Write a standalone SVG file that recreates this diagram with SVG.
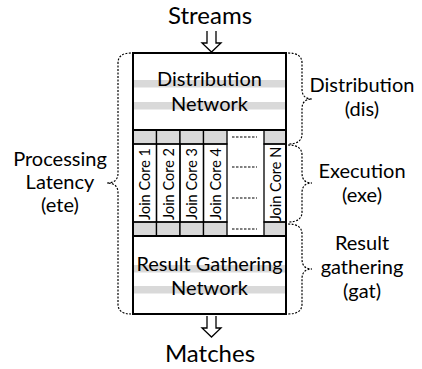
<svg xmlns="http://www.w3.org/2000/svg" width="422" height="369" viewBox="0 0 422 369">
<style>
text{font-family:Lato,"Open Sans","Liberation Sans",sans-serif;fill:#000;text-anchor:middle}
.lbl{font-size:20px}
.big{font-size:24px}
.core{font-size:14.5px}
.bar{fill:#d9d9d9}
.thick{fill:none;stroke:#000;stroke-width:2}
.thin{fill:none;stroke:#000;stroke-width:1.3}
.gcell{fill:#d9d9d9;stroke:#000;stroke-width:1.3}
.brace{fill:none;stroke:#000;stroke-width:1.2;stroke-dasharray:2 1.5}
.dots{fill:none;stroke:#000;stroke-width:1.2;stroke-dasharray:2.5 1.5}
.arr{fill:none;stroke:#000;stroke-width:1.3;stroke-linejoin:miter}
</style>
<rect width="422" height="369" fill="#fff"/>
<g id="streams">
<text class="big" x="210" y="23.5">Streams</text>
</g>
<g id="distribution-network">
<rect x="133" y="53" width="153" height="77" fill="#fff"/>
<rect class="bar" x="133" y="80" width="153" height="7.5"/>
<rect class="bar" x="133" y="102" width="153" height="7.5"/>
<text class="lbl" x="209.5" y="86">Distribution</text>
<text class="lbl" x="209.5" y="110.5">Network</text>
</g>
<g id="execution">
<rect class="gcell" x="133" y="130" width="23.5" height="14"/>
<rect class="gcell" x="156.5" y="130" width="23.5" height="14"/>
<rect class="gcell" x="180" y="130" width="23.5" height="14"/>
<rect class="gcell" x="203.5" y="130" width="23.5" height="14"/>
<rect class="gcell" x="264" y="130" width="22" height="14"/>
<rect class="gcell" x="133" y="222" width="23.5" height="14"/>
<rect class="gcell" x="156.5" y="222" width="23.5" height="14"/>
<rect class="gcell" x="180" y="222" width="23.5" height="14"/>
<rect class="gcell" x="203.5" y="222" width="23.5" height="14"/>
<rect class="gcell" x="264" y="222" width="22" height="14"/>
<rect class="thin" x="133" y="144" width="23.5" height="78"/>
<rect class="thin" x="156.5" y="144" width="23.5" height="78"/>
<rect class="thin" x="180" y="144" width="23.5" height="78"/>
<rect class="thin" x="203.5" y="144" width="23.5" height="78"/>
<rect class="thin" x="264" y="144" width="22" height="78"/>
<line class="dots" x1="232" y1="137" x2="257" y2="137"/>
<line class="dots" x1="232" y1="167" x2="257" y2="167"/>
<line class="dots" x1="232" y1="198" x2="257" y2="198"/>
<line class="dots" x1="232" y1="229" x2="257" y2="229"/>
<text class="core" transform="translate(150,184) rotate(-90)">Join Core 1</text>
<text class="core" transform="translate(173.5,184) rotate(-90)">Join Core 2</text>
<text class="core" transform="translate(197,184) rotate(-90)">Join Core 3</text>
<text class="core" transform="translate(220.5,184) rotate(-90)">Join Core 4</text>
<text class="core" transform="translate(280.5,184) rotate(-90)">Join Core N</text>
</g>
<g id="result-gathering-network">
<rect class="bar" x="133" y="265" width="153" height="7.5"/>
<rect class="bar" x="133" y="286" width="153" height="7.5"/>
<text class="lbl" x="209.5" y="270.5">Result Gathering</text>
<text class="lbl" x="209.5" y="295">Network</text>
</g>
<g id="frame">
<rect class="thick" x="133" y="53" width="153" height="261"/>
<line class="thick" x1="133" y1="130" x2="286" y2="130"/>
<line class="thick" x1="133" y1="236" x2="286" y2="236"/>
</g>
<g id="matches">
<text class="big" x="210" y="361.5">Matches</text>
</g>
<g id="connectors">
<path class="arr" d="M207,31 V43 H202 L211.5,52 L221,43 H216 V31"/>
<path class="arr" d="M207,316 V328 H202 L211.5,337 L221,328 H216 V316"/>
<path class="brace" d="M131,53 Q118,53 118,63 V173 Q118,183 107,183 Q118,183 118,193 V304 Q118,314 131,314"/>
<path class="brace" d="M288,53 Q302,53 302,63 V89 Q302,99 312,99 Q302,99 302,109 V134 Q302,144 288,144"/>
<path class="brace" d="M288,145 Q302,145 302,155 V173 Q302,183 312,183 Q302,183 302,193 V212 Q302,222 288,222"/>
<path class="brace" d="M288,224 Q302,224 302,234 V259 Q302,269 312,269 Q302,269 302,279 V304 Q302,314 288,314"/>
</g>
<g id="labels">
<text class="lbl" x="60" y="166">Processing</text>
<text class="lbl" x="60" y="189">Latency</text>
<text class="lbl" x="60" y="212">(ete)</text>
<text class="lbl" x="362" y="92">Distribution</text>
<text class="lbl" x="362" y="116">(dis)</text>
<text class="lbl" x="362" y="178">Execution</text>
<text class="lbl" x="362" y="202">(exe)</text>
<text class="lbl" x="362" y="250">Result</text>
<text class="lbl" x="362" y="273.5">gathering</text>
<text class="lbl" x="362" y="297.5">(gat)</text>
</g>
</svg>
